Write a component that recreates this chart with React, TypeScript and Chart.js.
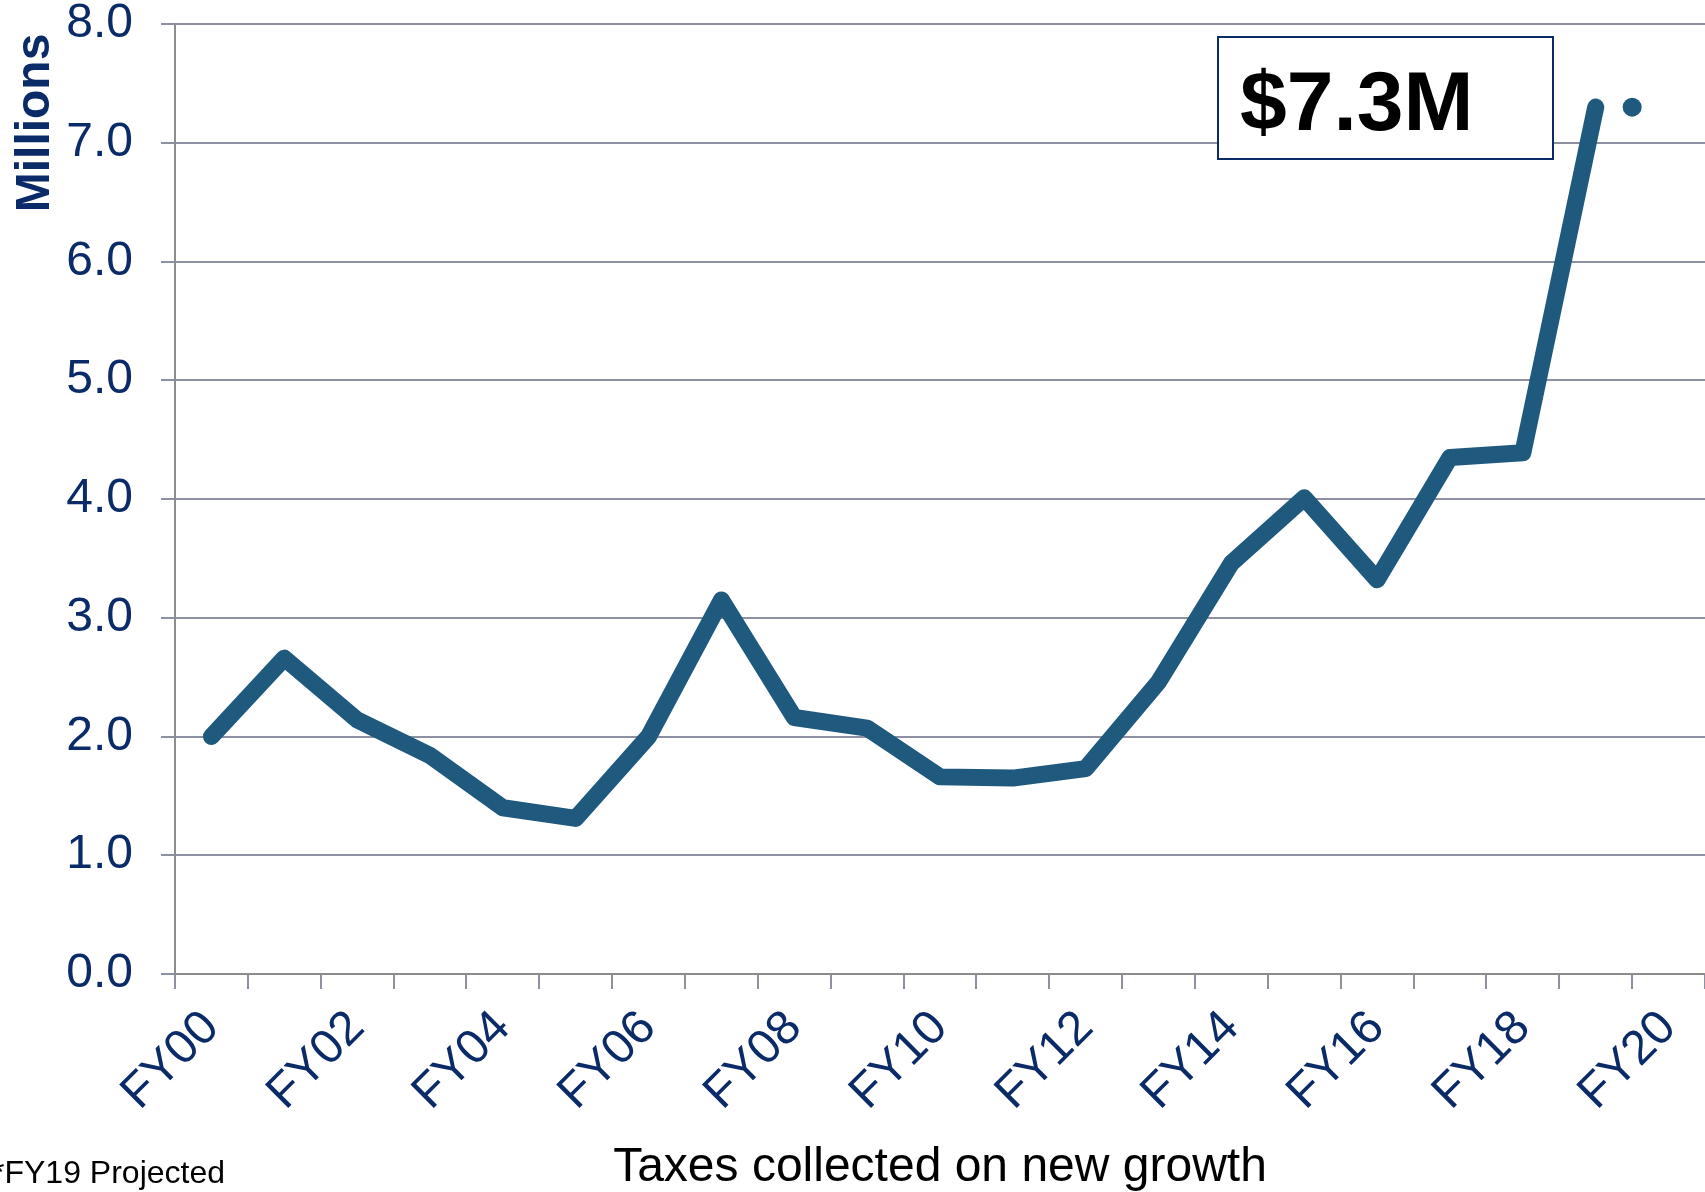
import React, { useEffect, useRef } from "react";
import { Chart, registerables } from "chart.js";

Chart.register(...registerables);

const categories = [
  "FY00", "FY01", "FY02", "FY03", "FY04", "FY05", "FY06", "FY07", "FY08", "FY09",
  "FY10", "FY11", "FY12", "FY13", "FY14", "FY15", "FY16", "FY17", "FY18", "FY19", "FY20",
];
const taxValues = [
  2.0, 2.66, 2.14, 1.84, 1.4, 1.31, 2.0, 3.15, 2.16, 2.07,
  1.66, 1.65, 1.73, 2.46, 3.46, 4.01, 3.32, 4.35, 4.39, 7.3,
];
const projectedDotX = [19.5];
const projectedDotY = [7.3];
const yTicks = [0, 1, 2, 3, 4, 5, 6, 7, 8];
const calloutText = "$7.3M";
const footnoteText = "*FY19 Projected";
const xTitle = "Taxes collected on new growth";
const yTitle = "Millions\u2009";

const FONT = "'Liberation Sans', Arial, Helvetica, sans-serif";
const NAVY = "#0B2A68";
const LINE = "#1F5A7E";
const GRID = "#8D8FA3";
const AXIS = "#8C8C8C";

const annotations = {
  id: "annotations",
  afterDraw(chart: any) {
    const ctx = chart.ctx;
    ctx.save();
    // callout box
    const bx = 1218, by = 37, bw = 335, bh = 122;
    ctx.fillStyle = "#ffffff";
    ctx.fillRect(bx, by, bw, bh);
    ctx.strokeStyle = "#0B2A68";
    ctx.lineWidth = 2;
    ctx.strokeRect(bx, by, bw, bh);
    ctx.fillStyle = "#000000";
    ctx.font = `bold 84px ${FONT}`;
    ctx.textAlign = "left";
    ctx.textBaseline = "alphabetic";
    ctx.fillText(calloutText, 1240, 130);
    // footnote
    ctx.font = `32px ${FONT}`;
    ctx.fillText(footnoteText, -8, 1183);
    ctx.restore();
  },
};

export default function App() {
  const ref = useRef<HTMLCanvasElement | null>(null);

  useEffect(() => {
    if (!ref.current) return;
    const chart = new Chart(ref.current, {
      type: "line",
      data: {
        labels: categories,
        datasets: [
          {
            data: taxValues,
            xAxisID: "x",
            yAxisID: "y",
            borderColor: LINE,
            backgroundColor: LINE,
            borderWidth: 17,
            borderJoinStyle: "round",
            borderCapStyle: "round",
            pointRadius: 0,
            pointHoverRadius: 0,
            tension: 0,
            fill: false,
          } as any,
          {
            data: projectedDotX.map((x, i) => ({ x, y: projectedDotY[i] })),
            xAxisID: "x2",
            yAxisID: "y",
            showLine: false,
            pointRadius: 9.5,
            pointBorderWidth: 0,
            pointBackgroundColor: LINE,
            borderColor: LINE,
            backgroundColor: LINE,
          } as any,
        ],
      },
      options: {
        responsive: false,
        animation: false,
        layout: { autoPadding: false, padding: { top: 24, left: 0, right: 0, bottom: 0 } },
        plugins: {
          legend: { display: false },
          tooltip: { enabled: false },
          title: { display: false },
        },
        scales: {
          x: {
            type: "category",
            offset: true,
            grid: {
              offset: true,
              drawOnChartArea: false,
              drawTicks: true,
              tickLength: 15,
              tickWidth: 2,
              tickColor: GRID,
              color: GRID,
              lineWidth: 2,
            },
            border: { display: true, color: AXIS, width: 2 },
            ticks: {
              autoSkip: false,
              minRotation: 45,
              maxRotation: 45,
              padding: 11,
              color: NAVY,
              font: { family: FONT, size: 48 },
              callback: (_v: any, i: number) => (i % 2 === 0 ? categories[i] : ""),
            },
            title: {
              display: true,
              text: xTitle,
              color: "#000000",
              font: { family: FONT, size: 48, lineHeight: 1.0 },
              padding: { top: 0, bottom: 0 },
            },
            afterFit: (s: any) => {
              s.height = 218;
              s.paddingLeft = 0;
              s.paddingRight = 0;
            },
          },
          x2: {
            type: "linear",
            display: false,
            min: -0.5,
            max: categories.length - 0.5,
            ticks: { display: false },
            afterFit: (s: any) => {
              s.paddingLeft = 0;
              s.paddingRight = 0;
            },
          },
          y: {
            type: "linear",
            min: yTicks[0],
            max: yTicks[yTicks.length - 1],
            afterBuildTicks: (s: any) => {
              s.ticks = yTicks.map((v) => ({ value: v }));
            },
            grid: {
              color: GRID,
              lineWidth: 2,
              drawTicks: true,
              tickLength: 14,
              tickColor: GRID,
            },
            border: { display: true, color: AXIS, width: 2 },
            ticks: {
              padding: 28,
              color: NAVY,
              font: { family: FONT, size: 48 },
              callback: (v: any) => Number(v).toFixed(1),
            },
            title: {
              display: true,
              text: yTitle,
              align: "end",
              color: NAVY,
              font: { family: FONT, size: 48, weight: "bold" },
              padding: { top: 7, bottom: 0 },
            },
            afterFit: (s: any) => {
              s.width = 175;
              s.paddingTop = 0;
              s.paddingBottom = 0;
            },
          },
        },
      } as any,
      plugins: [annotations],
    });
    return () => chart.destroy();
  }, []);

  return (
    <div style={{ position: "fixed", left: 0, top: 0, width: 1705, height: 1192, background: "#fff" }}>
      <canvas ref={ref} width={1705} height={1192} style={{ display: "block" }} />
    </div>
  );
}
